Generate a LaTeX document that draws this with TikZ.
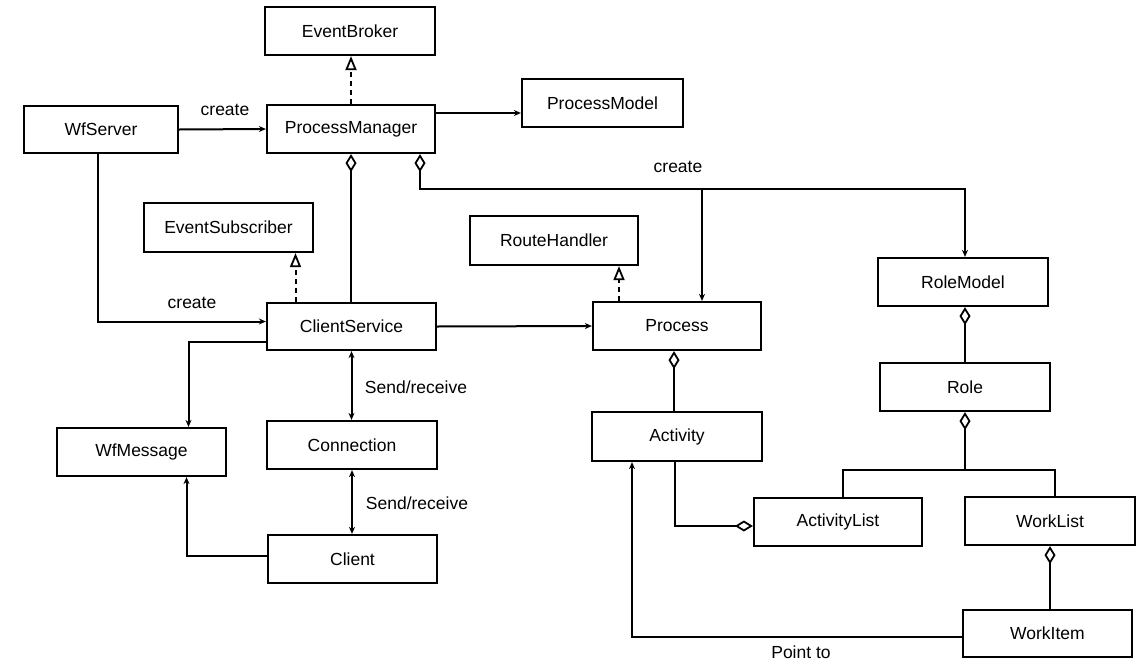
\documentclass[tikz,border=0pt]{standalone}
\usepackage{fontspec}
\setmainfont{Liberation Sans}
\usetikzlibrary{arrows.meta,calc}
\begin{document}
\begin{tikzpicture}[x=1pt,y=-1pt,
 box/.style={draw,line width=2.2pt,minimum width=168pt,minimum height=48pt,inner sep=0pt,font=\fontsize{17.5}{19}\selectfont},
 conn/.style={line width=2pt},
 lbl/.style={font=\fontsize{17.5}{19}\selectfont,inner sep=0pt},
 assoc/.style={conn,-{Stealth[length=7pt,width=6pt]}},
 both/.style={conn,{Stealth[length=7pt,width=6pt]}-{Stealth[length=7pt,width=6pt]}},
 real/.style={conn,dash pattern=on 5pt off 4pt,-{Triangle[open,length=14pt,width=11pt,line width=1.8pt]}},
 dia/.style={conn,{Diamond[open,length=18pt,width=11pt,line width=1.8pt]}-},
 diaarr/.style={conn,{Diamond[open,length=18pt,width=11pt,line width=1.8pt]}-{Stealth[length=7pt,width=6pt]}},
 todia/.style={conn,-{Diamond[open,length=18pt,width=11pt,line width=1.8pt]}},
]
\useasboundingbox (0,0) rectangle (1144,662);

\node[box,minimum width=170pt] (eb) at (350,31) {EventBroker};
\node[box,minimum width=154pt,minimum height=47pt] (wfs) at (101,129.5) {WfServer};
\node[box] (pm) at (351,129) {ProcessManager};
\node[box,minimum width=161pt] (pmod) at (602.5,103) {ProcessModel};
\node[box,minimum width=169pt,minimum height=49pt] (es) at (228.5,227.5) {EventSubscriber};
\node[box,minimum height=49pt] (rh) at (554,240.5) {RouteHandler};
\node[box,minimum width=170pt] (rm) at (963,282) {RoleModel};
\node[box,minimum width=169pt,minimum height=47pt] (cs) at (351.5,326.5) {ClientService};
\node[box] (proc) at (677,326) {Process};
\node[box,minimum width=170pt] (role) at (965,387) {Role};
\node[box,minimum width=169pt] (wfm) at (141.5,452) {WfMessage};
\node[box,minimum width=170pt] (connection) at (352,445) {Connection};
\node[box,minimum width=170pt,minimum height=49pt] (act) at (677,436.5) {Activity};
\node[box] (al) at (838,522) {ActivityList};
\node[box,minimum width=170pt] (wl) at (1050,521) {WorkList};
\node[box,minimum width=169pt] (cl) at (352.5,559) {Client};
\node[box,minimum width=169pt,minimum height=47pt] (wi) at (1047.5,633.5) {WorkItem};

% realizations
\draw[real] (pm.north) -- (pm.north |- eb.south);
\coordinate (csl) at ([xshift=-56pt]cs.north);
\draw[real] (csl) -- (csl |- es.south);
\coordinate (prl) at ([xshift=-58pt]proc.north);
\draw[real] (prl) -- (prl |- rh.south);

% associations
\draw[assoc] (wfs.east) -- (pm.west);
\node[lbl] (c1) at (225,110) {create};
\coordinate (pmo) at ([yshift=16pt]pm.east);
\draw[assoc] (pmo) -- (pmo -| pmod.west);
\draw[dia] (pm.south) -- (pm.south |- cs.north);

\coordinate (pmr) at ([xshift=69pt]pm.south);
\coordinate (bus) at ($(pmr)+(0,35)$);
\coordinate (rmn) at ([xshift=2pt]rm.north);
\draw[diaarr] (pmr) -- (bus) -| (rmn);
\coordinate (prn) at ([xshift=25pt]proc.north);
\draw[assoc] (bus -| prn) -- (prn);
\node[lbl] (c3) at (678,167) {create};

\draw[assoc] ([xshift=-3pt]wfs.south) |- ([yshift=5pt]cs.west);
\node[lbl] (c2) at (192,303) {create};
\draw[assoc] (cs.east) -- (proc.west);
\draw[assoc] ([yshift=-15pt]cs.west) -| ([xshift=47pt]wfm.north);
\draw[both] (cs.south) -- (cs.south |- connection.north);
\node[lbl] (s1) at (416,387) {Send/receive};
\draw[both] (connection.south) -- (connection.south |- cl.north);
\node[lbl] (s2) at (417,503) {Send/receive};
\draw[assoc] ([yshift=3pt]cl.west) -| ([xshift=45pt]wfm.south);

% aggregations
\coordinate (prs) at ([xshift=-3pt]proc.south);
\draw[dia] (prs) -- (prs |- act.north);
\draw[todia] ([xshift=-2pt]act.south) |- ([yshift=-4pt]al.west);
\coordinate (rms) at ([xshift=2pt]rm.south);
\draw[dia] (rms) -- (rms |- role.north);
\draw[dia] (role.south) -- ++(0,58) coordinate (rb);
\draw[conn] ([xshift=5pt]al.north) |- (rb) -| ([xshift=5pt]wl.north);
\draw[dia] (wl.south) -- (wl.south |- wi.north);

\draw[assoc] ([yshift=-3.5pt]wi.west) -| ([xshift=-45pt]act.south);
\node[lbl] (pt) at (801,652) {Point to};
\end{tikzpicture}
\end{document}
